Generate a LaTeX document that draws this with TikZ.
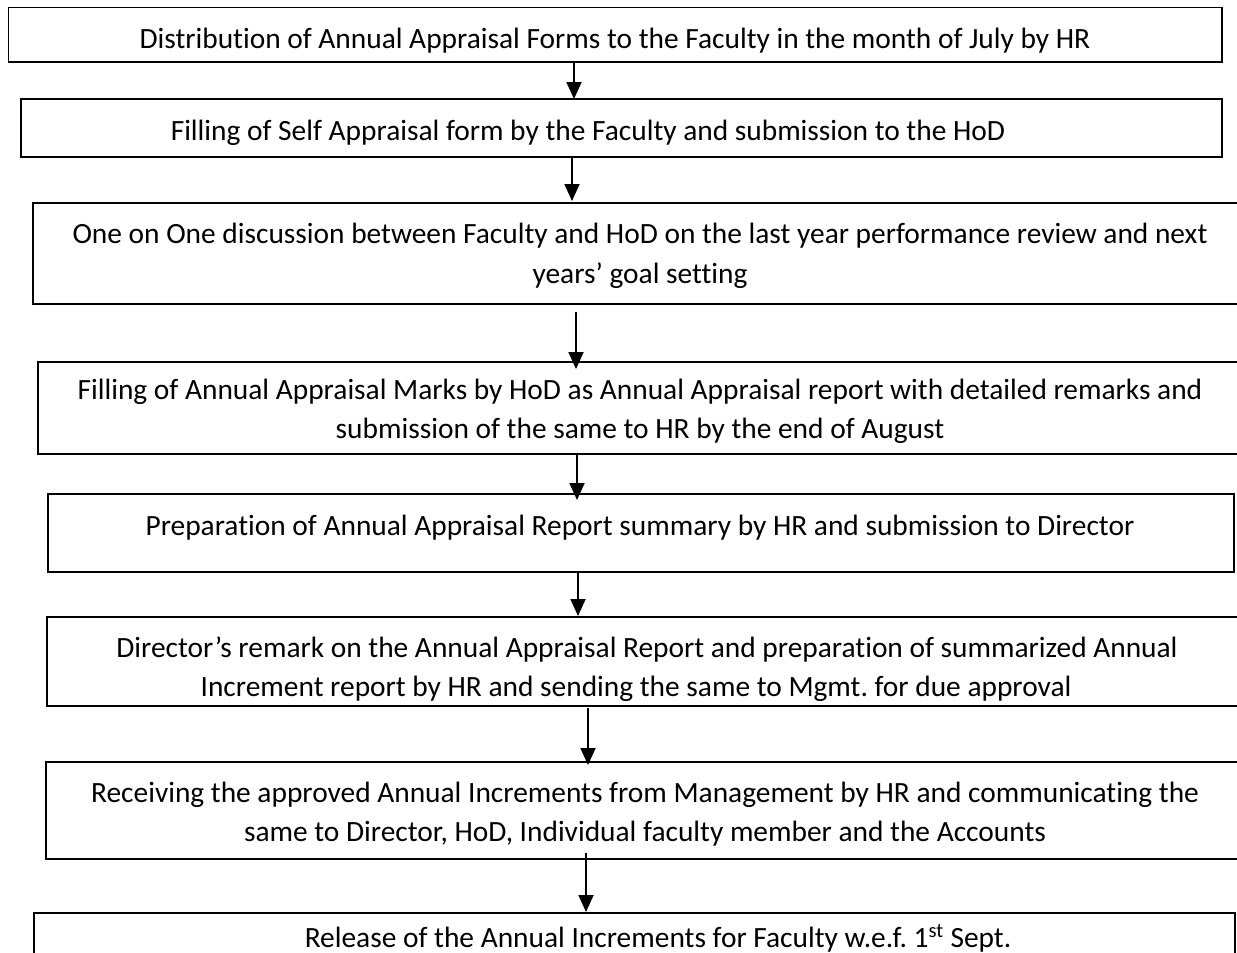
\documentclass[tikz,border=0pt]{standalone}
\usepackage{fontspec}
\setmainfont{Carlito}[Ligatures=NoCommon]
\usetikzlibrary{arrows.meta}

\begin{document}
\frenchspacing
\begin{tikzpicture}[x=1pt,y=-1pt,
  stepbox/.style={draw=black, line width=1.6pt, fill=none},
  lbl/.style={anchor=base, inner sep=0pt, font=\fontsize{29.4}{39}\selectfont},
  flow/.style={line width=1.8pt, -{Triangle[width=15pt,length=17pt]}}
]
\useasboundingbox (0,0) rectangle (1237,953);
\clip (0,0) rectangle (1237,953);

% process boxes
\draw[stepbox] (8.5,7.5) rectangle (1222,62);
\draw[stepbox] (21,99) rectangle (1222,157);
\draw[stepbox] (33,203) rectangle (1260,304);
\draw[stepbox] (38,362) rectangle (1260,454);
\draw[stepbox] (48,494) rectangle (1234,572);
\draw[stepbox] (47,617) rectangle (1260,706);
\draw[stepbox] (46,762) rectangle (1260,859);
\draw[stepbox] (34,913) rectangle (1235,990);

% box texts
\node[lbl] (t1) at (615,48) {Distribution of Annual Appraisal Forms to the Faculty in the month of July by HR};
\node[lbl] (t2) at (588,140) {Filling of Self Appraisal form by the Faculty and submission to the HoD};
\node[lbl] (t3a) at (640,243) {One on One discussion between Faculty and HoD on the last year performance review and next};
\node[lbl] (t3b) at (640,283) {years’ goal setting};
\node[lbl] (t4a) at (640,399) {Filling of Annual Appraisal Marks by HoD as Annual Appraisal report with detailed remarks and};
\node[lbl] (t4b) at (640,438) {submission of the same to HR by the end of August};
\node[lbl] (t5) at (640,535) {Preparation of Annual Appraisal Report summary by HR and submission to Director};
\node[lbl] (t6a) at (647,657) {Director’s remark on the Annual Appraisal Report and preparation of summarized Annual};
\node[lbl] (t6b) at (636,696) {Increment report by HR and sending the same to Mgmt. for due approval};
\node[lbl] (t7a) at (645,802) {Receiving the approved Annual Increments from Management by HR and communicating the};
\node[lbl] (t7b) at (645,841) {same to Director, HoD, Individual faculty member and the Accounts};
\node[lbl] (t8) at (658,947) {Release of the Annual Increments for Faculty w.e.f. 1\textsuperscript{st} Sept.};

% connector end points
\coordinate (a1s) at (574,63);  \coordinate (a1e) at (574,99);
\coordinate (a2s) at (572,157); \coordinate (a2e) at (572,201);
\coordinate (a3s) at (576,312); \coordinate (a3e) at (576,369);
\coordinate (a4s) at (577,453); \coordinate (a4e) at (577,500);
\coordinate (a5s) at (578,572); \coordinate (a5e) at (578,616);
\coordinate (a6s) at (588,708); \coordinate (a6e) at (588,765);
\coordinate (a7s) at (586,853); \coordinate (a7e) at (586,912);

\draw[flow] (a1s) -- (a1e);
\draw[flow] (a2s) -- (a2e);
\draw[flow] (a3s) -- (a3e);
\draw[flow] (a4s) -- (a4e);
\draw[flow] (a5s) -- (a5e);
\draw[flow] (a6s) -- (a6e);
\draw[flow] (a7s) -- (a7e);
\end{tikzpicture}
\end{document}
